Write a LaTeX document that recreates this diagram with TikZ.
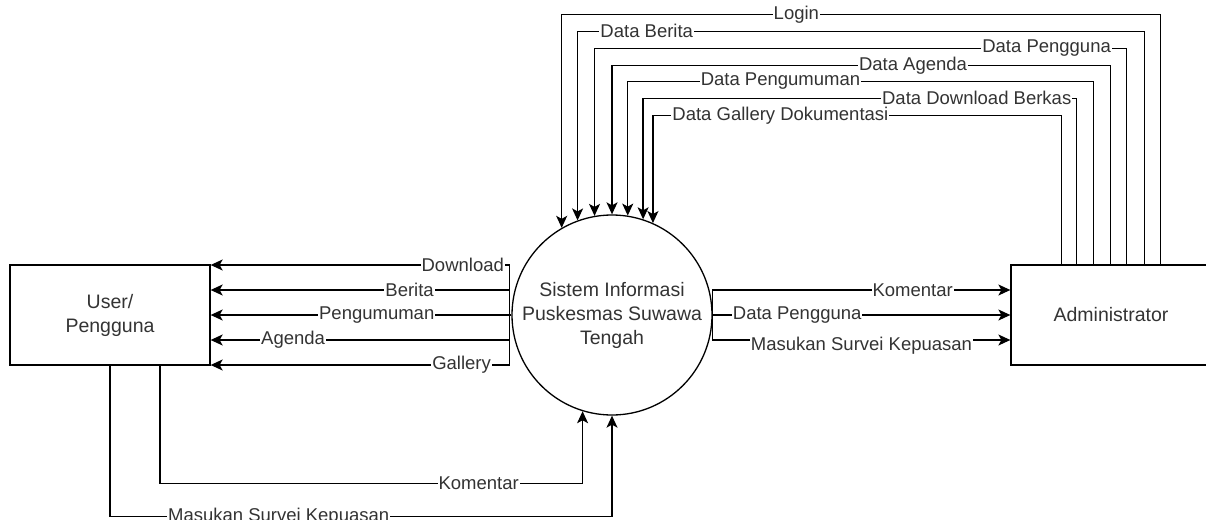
\documentclass[tikz,border=0pt]{standalone}
\usepackage{fontspec}
\setmainfont{Liberation Sans}
\usetikzlibrary{arrows.meta,positioning}

\begin{document}
\begin{tikzpicture}[
	x=1pt, y=-1pt,
	entity/.style={
		shape=rectangle,
		draw,
		minimum width=200pt,
		minimum height=100pt,
		align=center,
		text=black!80,
		font=\fontsize{19.5}{24}\selectfont,
	},
	process/.style={
		shape=circle,
		draw,
		minimum size=200pt,
		inner sep=0pt,
		align=center,
		text=black!80,
		font=\fontsize{19.5}{24}\selectfont,
	},
	flowlabel/.style={
		fill=white,
		inner sep=1pt,
		text=black!80,
		font=\fontsize{18.5}{20}\selectfont,
	},
	>={Stealth[length=12pt,width=11pt,inset=3pt]},
	line width=1.3pt,
]
\useasboundingbox (0,0) rectangle (1206,519);

\node (user) [entity] at (110,315) {User/\\Pengguna};
\node (sys) [process] at (612,315) {Sistem Informasi\\Puskesmas Suwawa\\Tengah};
\node (admin) [entity] at (1111,315) {Administrator};

% sistem -> user
\draw[->] (sys.west) -- ++(-2,0) |- node[flowlabel, pos=.578] {Download} ([yshift=50]user.east);
\draw[->] (sys.west) -- ++(-2,0) |- node[flowlabel, pos=.667] {Berita} ([yshift=25]user.east);
\draw[->] (sys.west) -- ++(-2,0) |- node[flowlabel, pos=.722] {Pengumuman} (user.east);
\draw[->] (sys.west) -- ++(-2,0) |- node[flowlabel, pos=.862] {Agenda} ([yshift=-25]user.east);
\draw[->] (sys.west) -- ++(-2,0) |- node[flowlabel, pos=.58] {Gallery} ([yshift=-50]user.east);

% sistem -> admin
\draw[->] (sys.east) |- node[flowlabel, pos=.836] {Komentar} ([yshift=25]admin.west);
\draw[->] (sys.east) |- node[flowlabel, pos=.642] {Data Pengguna} (admin.west);
\draw[->] (sys.east) |- node[flowlabel, pos=.75, yshift=-6pt] {Masukan Survei Kepuasan} ([yshift=-25]admin.west);

% admin -> sistem
\draw[->] ([xshift=150]admin.north west) -- ++(0,-250) -| node[flowlabel, pos=.304] {Login} (sys.120);
\draw[->] ([xshift=134]admin.north west) -- ++(0,-233) -| node[flowlabel, pos=.439] {Data Berita} (sys.110.5);
\draw[->] ([xshift=116]admin.north west) -- ++(0,-216) -| node[flowlabel, pos=.075] {Data Pengguna} (sys.100.4);
\draw[->] ([xshift=100]admin.north west) -- ++(0,-199) -| node[flowlabel, pos=.198] {Data Agenda} (sys.90.6);
\draw[->] ([xshift=83]admin.north west) -- ++(0,-183) -| node[flowlabel, pos=.336] {Data Pengumuman} (sys.81.4);
\draw[->] ([xshift=66]admin.north west) -- ++(0,-166) -| node[flowlabel, pos=.115] {Data Download Berkas} (sys.72.5);
\draw[->] ([xshift=51]admin.north west) -- ++(0,-149) -| node[flowlabel, pos=.344] {Data Gallery Dokumentasi} (sys.66.4);

% user -> sistem
\draw[->] ([xshift=50]user.south) -- ++(0,118) -| node[flowlabel, pos=.377] {Komentar} (sys.253.7);
\draw[->] (user.south) -- ++(0,151) -| node[flowlabel, pos=.168] {Masukan Survei Kepuasan} (sys.south);
\end{tikzpicture}
\end{document}
